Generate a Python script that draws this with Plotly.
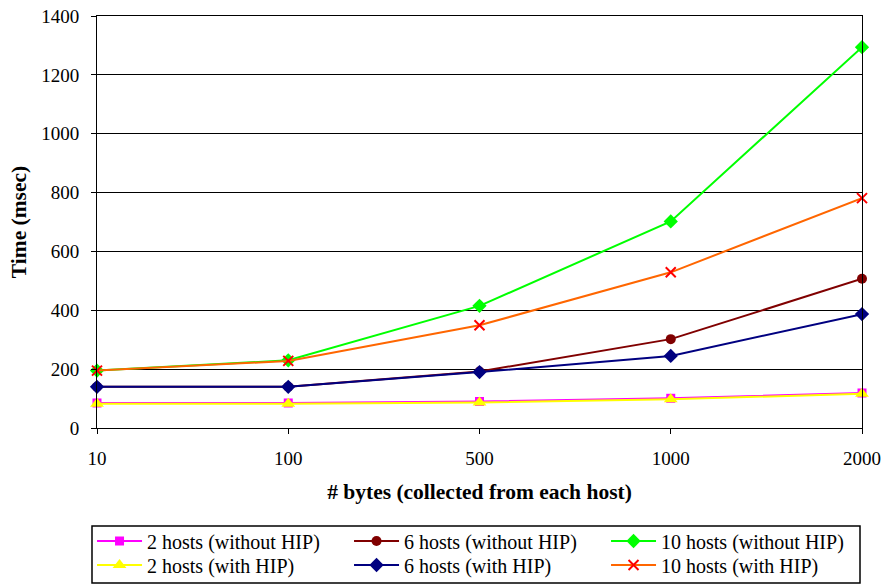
import plotly.graph_objects as go

# Payload size collected from each host (bytes)
byte_sizes = ["10", "100", "500", "1000", "2000"]

# Collection time in msec
hosts2_without_hip = [85, 85, 90, 101, 119]
hosts2_with_hip = [82, 82, 87, 98, 116]
hosts6_without_hip = [140, 140, 192, 302, 507]
hosts6_with_hip = [140, 140, 190, 245, 387]
hosts10_without_hip = [195, 230, 415, 702, 1294]
hosts10_with_hip = [195, 228, 349, 529, 781]

FONT = "'Liberation Serif', 'DejaVu Serif', serif"

series = [
    # name, values, line colour, marker symbol, marker colour, size, legend row, rank
    ("2 hosts (without HIP)", hosts2_without_hip, "#FF00FF", "square", "#FF00FF", 9, "legend", 1),
    ("2 hosts (with HIP)", hosts2_with_hip, "#FFFF00", "triangle-up", "#FFFF00", 12, "legend2", 1),
    ("6 hosts (without HIP)", hosts6_without_hip, "#800000", "circle", "#800000", 10, "legend", 2),
    ("6 hosts (with HIP)", hosts6_with_hip, "#000080", "diamond", "#000080", 11, "legend2", 2),
    ("10 hosts (without HIP)", hosts10_without_hip, "#00FF00", "diamond", "#00FF00", 11, "legend", 3),
    ("10 hosts (with HIP)", hosts10_with_hip, "#FF6600", "x-thin", "#FF0000", 10, "legend2", 3),
]

fig = go.Figure()
for name, vals, lc, sym, mc, size, leg, rank in series:
    marker = dict(symbol=sym, color=mc, size=size)
    if sym == "x-thin":
        marker["line"] = dict(color=mc, width=2)
    else:
        marker["line"] = dict(width=0)
    fig.add_trace(go.Scatter(
        x=byte_sizes, y=vals, name=name, mode="lines+markers",
        line=dict(color=lc, width=2), marker=marker,
        legend=leg, legendrank=rank, cliponaxis=False,
    ))

legend_row = dict(
    orientation="h", x=-0.0065, xanchor="left", yanchor="middle",
    entrywidth=197, itemwidth=45, borderwidth=0, bgcolor="rgba(0,0,0,0)",
    font=dict(family=FONT, size=20, color="black"),
)

fig.update_layout(
    width=882, height=584,
    margin=dict(l=97, r=20, t=16, b=156, autoexpand=False),
    paper_bgcolor="white", plot_bgcolor="white",
    font=dict(family=FONT, size=19, color="black"),
    showlegend=True,
    legend=dict(legend_row, y=-0.2743),
    legend2=dict(legend_row, y=-0.3325),
    xaxis=dict(
        type="category", range=[0, 4],
        showline=True, linecolor="black", linewidth=1, mirror=True,
        ticks="outside", ticklen=5, tickcolor="black", ticklabelstandoff=8,
        showgrid=False, zeroline=False,
        title=dict(text="<b># bytes (collected from each host)</b>", font=dict(size=21.5), standoff=16),
    ),
    yaxis=dict(
        range=[0, 1400], dtick=200,
        showline=True, linecolor="black", linewidth=1, mirror=True,
        ticks="outside", ticklen=5, tickcolor="black", ticklabelstandoff=8,
        showgrid=True, gridcolor="black", gridwidth=1, zeroline=False,
        title=dict(text="<b>Time (msec)</b>", font=dict(size=21.5), standoff=8),
    ),
    shapes=[dict(
        type="rect", xref="paper", yref="paper",
        x0=-0.00654, x1=0.99739, y0=-0.3762, y1=-0.2379,
        line=dict(color="black", width=1.5), fillcolor="rgba(0,0,0,0)",
    )],
)

fig.write_html("out.html")
